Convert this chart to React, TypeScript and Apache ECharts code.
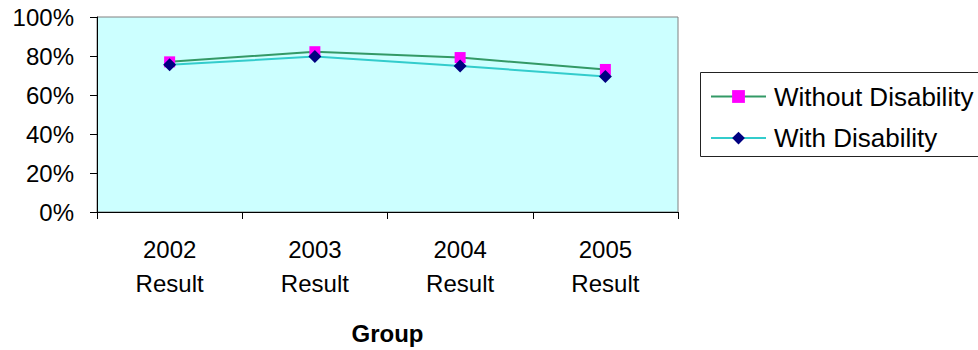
import React, { useEffect, useRef } from "react";
import * as echarts from "echarts";

// Pass rates by result year
const categories = ["2002\nResult", "2003\nResult", "2004\nResult", "2005\nResult"];
const seriesNames = ["Without Disability", "With Disability"];
const withoutDisability = [0.77, 0.822, 0.792, 0.731];
const withDisability = [0.755, 0.797, 0.749, 0.695];
const yTicks = { min: 0, max: 1, interval: 0.2 };
const axisTitle = "Group";

const FONT = "'Liberation Sans', Arial, sans-serif";

export default function App() {
  const ref = useRef<HTMLDivElement>(null);

  useEffect(() => {
    if (!ref.current) return;
    const chart = echarts.init(ref.current, undefined, { renderer: "svg" });
    chart.setOption({
      animation: false,
      backgroundColor: "#ffffff",
      textStyle: { fontFamily: FONT },
      grid: {
        left: 97,
        top: 17,
        width: 581,
        height: 195,
        containLabel: false,
        show: true,
        backgroundColor: "#CCFFFF",
        borderColor: "#808080",
        borderWidth: 1,
      },
      xAxis: {
        type: "category",
        data: categories,
        boundaryGap: true,
        name: axisTitle,
        nameLocation: "middle",
        nameGap: 109,
        nameTextStyle: { fontFamily: FONT, fontSize: 24, fontWeight: "bold", color: "#000" },
        axisLine: { show: true, lineStyle: { color: "#000", width: 1 } },
        axisTick: { show: true, alignWithLabel: false, length: 7, lineStyle: { color: "#000" } },
        axisLabel: {
          margin: 20,
          fontFamily: FONT,
          fontSize: 24,
          lineHeight: 34,
          color: "#000",
          interval: 0,
        },
        splitLine: { show: false },
      },
      yAxis: {
        type: "value",
        min: yTicks.min,
        max: yTicks.max,
        interval: yTicks.interval,
        axisLine: { show: true, lineStyle: { color: "#000", width: 1 } },
        axisTick: { show: true, length: 7, lineStyle: { color: "#000" } },
        axisLabel: {
          margin: 23,
          fontFamily: FONT,
          fontSize: 24,
          color: "#000",
          formatter: (v: number) => `${Math.round(v * 100)}%`,
        },
        splitLine: { show: false },
      },
      legend: {
        orient: "vertical",
        left: 705,
        top: 74,
        padding: 5,
        itemWidth: 55,
        itemHeight: 16,
        itemGap: 6.6,
        textStyle: {
          fontFamily: FONT,
          fontSize: 26,
          color: "#000",
          lineHeight: 26,
          padding: [0, 0, 9, 3],
        },
        data: seriesNames,
      },
      graphic: [
        {
          type: "rect",
          shape: { x: 700.5, y: 72.5, width: 300, height: 84 },
          style: { fill: "none", stroke: "#222", lineWidth: 1 },
          silent: true,
          z: 1,
        },
      ],
      series: [
        {
          name: seriesNames[0],
          type: "line",
          data: withoutDisability,
          symbol: "rect",
          symbolSize: 11,
          lineStyle: { color: "#339966", width: 2 },
          itemStyle: { color: "#FF00FF" },
        },
        {
          name: seriesNames[1],
          type: "line",
          data: withDisability,
          symbol: "diamond",
          symbolSize: 13,
          lineStyle: { color: "#33CCCC", width: 2 },
          itemStyle: { color: "#000080" },
        },
      ],
    });
    return () => chart.dispose();
  }, []);

  return (
    <div
      ref={ref}
      style={{ position: "fixed", left: 0, top: 0, width: 978, height: 350 }}
    />
  );
}
